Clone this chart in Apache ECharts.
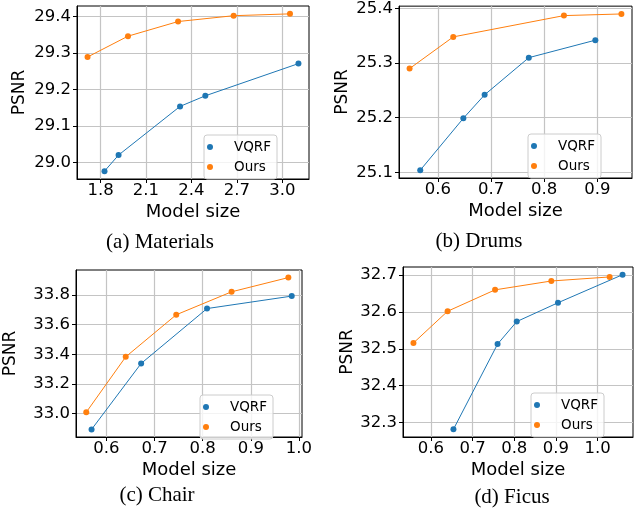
<!DOCTYPE html>
<html>
<head>
<meta charset="utf-8">
<script src="https://cdn.jsdelivr.net/npm/echarts@6/dist/echarts.min.js"></script>
<style>
  html, body { margin: 0; padding: 0; background: #fff; }
  #chart { width: 638px; height: 514px; }
</style>
</head>
<body>
<div id="chart"></div>
<script>
// (a) Materials
const matVqrfX = [1.826, 1.919, 2.325, 2.492, 3.107];
const matVqrfY = [28.977, 29.021, 29.154, 29.183, 29.271];
const matOursX = [1.714, 1.981, 2.312, 2.679, 3.051];
const matOursY = [29.289, 29.346, 29.386, 29.402, 29.407];
const matXTicks = [1.8, 2.1, 2.4, 2.7, 3.0];
const matYTicks = [29.0, 29.1, 29.2, 29.3, 29.4];

// (b) Drums
const drumVqrfX = [0.567, 0.648, 0.688, 0.771, 0.896];
const drumVqrfY = [25.104, 25.199, 25.242, 25.310, 25.342];
const drumOursX = [0.547, 0.629, 0.837, 0.945];
const drumOursY = [25.290, 25.348, 25.387, 25.390];
const drumXTicks = [0.6, 0.7, 0.8, 0.9];
const drumYTicks = [25.1, 25.2, 25.3, 25.4];

// (c) Chair
const chairVqrfX = [0.569, 0.672, 0.809, 0.985];
const chairVqrfY = [32.893, 33.338, 33.709, 33.793];
const chairOursX = [0.558, 0.640, 0.745, 0.860, 0.978];
const chairOursY = [33.009, 33.383, 33.667, 33.822, 33.918];
const chairXTicks = [0.6, 0.7, 0.8, 0.9, 1.0];
const chairYTicks = [33.0, 33.2, 33.4, 33.6, 33.8];

// (d) Ficus
const ficusVqrfX = [0.654, 0.760, 0.806, 0.905, 1.060];
const ficusVqrfY = [32.282, 32.513, 32.574, 32.625, 32.701];
const ficusOursX = [0.558, 0.640, 0.754, 0.889, 1.029];
const ficusOursY = [32.516, 32.602, 32.660, 32.684, 32.695];
const ficusXTicks = [0.6, 0.7, 0.8, 0.9, 1.0];
const ficusYTicks = [32.3, 32.4, 32.5, 32.6, 32.7];

const captions = ['(a) Materials', '(b) Drums', '(c) Chair', '(d) Ficus'];
const seriesNames = ['VQRF', 'Ours'];
const colors = ['#1f77b4', '#ff7f0e'];

const sansFont = 'DejaVu Sans';
const serifFont = 'Liberation Serif';

const panels = [
  { vx: matVqrfX, vy: matVqrfY, ox: matOursX, oy: matOursY, xt: matXTicks, yt: matYTicks,
    grid: { left: 77, top: 6, width: 232, height: 173 }, legend: { left: 204, top: 135 },
    yGap: 49, caption: [160, 242] },
  { vx: drumVqrfX, vy: drumVqrfY, ox: drumOursX, oy: drumOursY, xt: drumXTicks, yt: drumYTicks,
    grid: { left: 399, top: 5, width: 233, height: 173 }, legend: { left: 528, top: 134 },
    yGap: 48, caption: [479, 241] },
  { vx: chairVqrfX, vy: chairVqrfY, ox: chairOursX, oy: chairOursY, xt: chairXTicks, yt: chairYTicks,
    grid: { left: 76, top: 270, width: 226, height: 167 }, legend: { left: 200, top: 395 },
    yGap: 57, caption: [157, 495] },
  { vx: ficusVqrfX, vy: ficusVqrfY, ox: ficusOursX, oy: ficusOursY, xt: ficusXTicks, yt: ficusYTicks,
    grid: { left: 403, top: 267, width: 230, height: 170 }, legend: { left: 531, top: 393 },
    yGap: 47, caption: [512, 497] },
];

// matplotlib style 5% margin around the data
function padded(a, b) {
  const all = a.concat(b);
  const lo = Math.min(...all);
  const hi = Math.max(...all);
  const m = (hi - lo) * 0.05;
  return [lo - m, hi + m];
}

function zip(xs, ys) {
  return xs.map((x, i) => [x, ys[i]]);
}

const option = {
  animation: false,
  grid: [],
  xAxis: [],
  yAxis: [],
  legend: [],
  series: [],
  graphic: [],
};

panels.forEach((p, i) => {
  const xExt = padded(p.vx, p.ox);
  const yExt = padded(p.vy, p.oy);
  option.grid.push(Object.assign({ show: true, borderColor: '#000', borderWidth: 1, containLabel: false }, p.grid));
  option.xAxis.push({
    type: 'value',
    gridIndex: i,
    min: xExt[0],
    max: xExt[1],
    name: 'Model size',
    nameLocation: 'middle',
    nameGap: 24,
    nameTextStyle: { fontFamily: sansFont, fontSize: 18, color: '#000' },
    axisLine: { show: true, onZero: false, lineStyle: { color: '#000', width: 1 } },
    axisTick: { show: true, length: 4, customValues: p.xt, lineStyle: { color: '#000' } },
    axisLabel: {
      customValues: p.xt,
      formatter: (v) => v.toFixed(1),
      fontFamily: sansFont,
      fontSize: 16.5,
      color: '#000',
      margin: 3,
    },
    splitLine: { show: true, lineStyle: { color: '#c4c4c4', width: 1.2 } },
  });
  option.yAxis.push({
    type: 'value',
    gridIndex: i,
    min: yExt[0],
    max: yExt[1],
    name: 'PSNR',
    nameLocation: 'middle',
    nameGap: p.yGap,
    nameTextStyle: { fontFamily: sansFont, fontSize: 17, color: '#000' },
    axisLine: { show: true, onZero: false, lineStyle: { color: '#000', width: 1 } },
    axisTick: { show: true, length: 4, customValues: p.yt, lineStyle: { color: '#000' } },
    axisLabel: {
      customValues: p.yt,
      formatter: (v) => v.toFixed(1),
      fontFamily: sansFont,
      fontSize: 16.5,
      color: '#000',
      margin: 6,
    },
    splitLine: { show: true, lineStyle: { color: '#c4c4c4', width: 1.2 } },
  });
  option.legend.push(Object.assign({
    orient: 'vertical',
    data: seriesNames,
    icon: 'circle',
    itemWidth: 32,
    itemHeight: 6,
    itemGap: 6,
    padding: [5, 6, 5, 3],
    backgroundColor: 'rgba(255,255,255,0.8)',
    borderColor: '#cccccc',
    borderWidth: 1,
    borderRadius: 3,
    textStyle: { fontFamily: sansFont, fontSize: 13.5, color: '#000', padding: [0, 0, 0, 3] },
  }, p.legend));
  [[p.vx, p.vy], [p.ox, p.oy]].forEach((d, k) => {
    option.series.push({
      name: seriesNames[k],
      type: 'line',
      xAxisIndex: i,
      yAxisIndex: i,
      data: zip(d[0], d[1]),
      symbol: 'circle',
      symbolSize: 6,
      showSymbol: true,
      color: colors[k],
      lineStyle: { width: 1, color: colors[k] },
      itemStyle: { color: colors[k] },
    });
  });
  option.graphic.push({
    type: 'text',
    x: p.caption[0],
    y: p.caption[1],
    style: {
      text: captions[i],
      fontFamily: serifFont,
      fontSize: 21,
      fill: '#000',
      align: 'center',
      verticalAlign: 'middle',
    },
  });
});

const mychart = echarts.init(document.getElementById('chart'));
mychart.setOption(option);
</script>
</body>
</html>
